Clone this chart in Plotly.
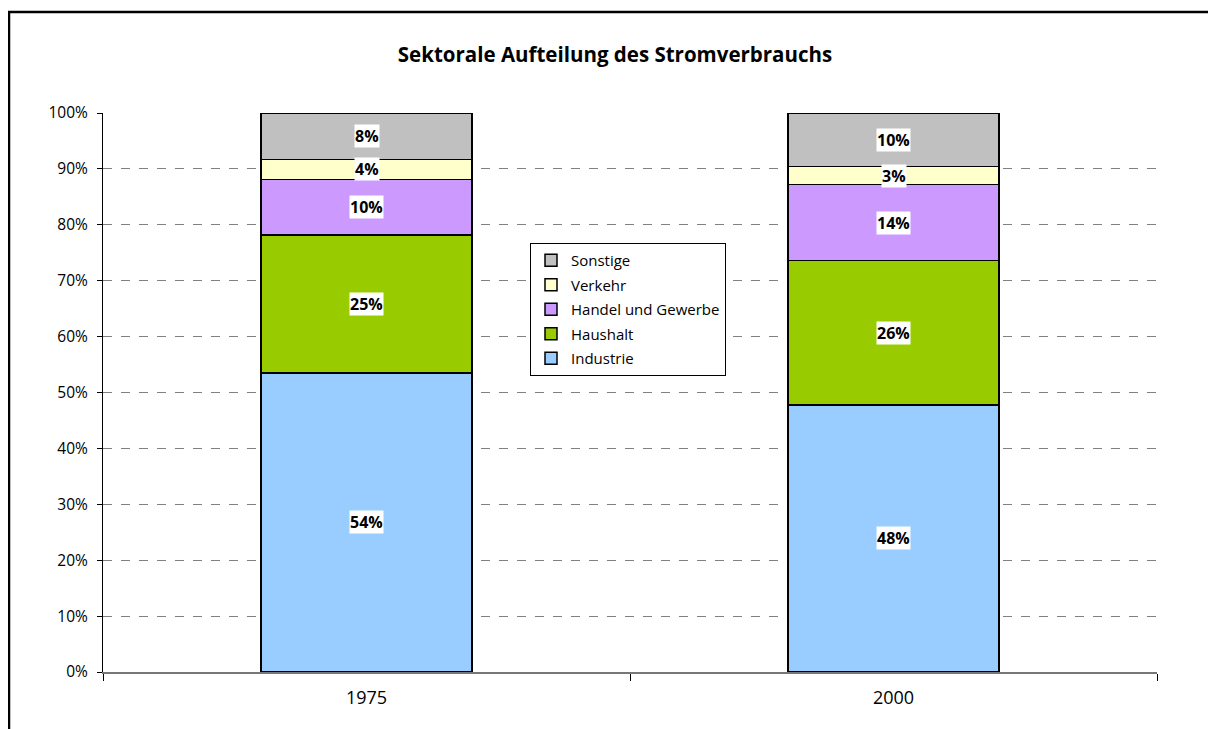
import plotly.graph_objects as go

years = ["1975", "2000"]
industrie = [53.5, 47.8]
haushalt = [24.7, 25.8]
handel = [9.9, 13.6]
verkehr = [3.6, 3.2]
sonstige = [8.3, 9.6]

series_names = ["Industrie", "Haushalt", "Handel und Gewerbe", "Verkehr", "Sonstige"]
series_values = [industrie, haushalt, handel, verkehr, sonstige]
series_colors = ["#99CCFF", "#99CC00", "#CC99FF", "#FFFFCC", "#C0C0C0"]

# page body has an 8px margin: the figure starts at screen (8, 8)
OFF = 8
SW, SH = 1216, 729
W, H = SW - OFF, SH - OFF
# plot area in screen pixels
X0, X1, Y0, Y1 = 103, 1157, 113, 672
L, R, T, B = X0 - OFF, SW - X1, Y0 - OFF, SH - Y1
pw, ph = X1 - X0, Y1 - Y0

def px(x):  # screen x -> paper
    return (x - X0) / pw

def py(y):  # screen y -> paper
    return (Y1 - y) / ph

FONT = "Open Sans, DejaVu Sans"

fig = go.Figure()
n = len(series_names)
for i, (name, vals, col) in enumerate(zip(series_names, series_values, series_colors)):
    fig.add_trace(go.Bar(
        x=years, y=vals, name=name, legendgroup=name, legendrank=n - i,
        marker=dict(color=col, line=dict(color="#000000", width=1.5)),
        hoverinfo="skip",
    ))

annotations = []
for j, yr in enumerate(years):
    base = 0
    for vals in series_values:
        v = vals[j]
        annotations.append(dict(
            x=j, y=base + v / 2, xref="x", yref="y",
            text=f"<b>{v:.0f}%</b>", showarrow=False,
            bgcolor="#FFFFFF", borderpad=0,
            font=dict(family=FONT, size=16, color="#000000"),
        ))
        base += v

fig.update_layout(
    width=W, height=H,
    margin=dict(l=L, r=R, t=T, b=B, autoexpand=False),
    paper_bgcolor="#FFFFFF", plot_bgcolor="#FFFFFF",
    barmode="stack", bargap=0.6,
    title=dict(text="<b>Sektorale Aufteilung des Stromverbrauchs</b>",
               x=px(615), xanchor="center", xref="paper",
               y=1 - (55 - OFF) / H, yanchor="middle", yref="container",
               font=dict(family=FONT, size=20.5, color="#000000")),
    legend=dict(x=px(530), y=py(243), xanchor="left", yanchor="top",
                bgcolor="#FFFFFF", bordercolor="#000000", borderwidth=1,
                traceorder="grouped", tracegroupgap=2, itemwidth=30,
                font=dict(family=FONT, size=15, color="#000000")),
    annotations=annotations,
    shapes=[
        dict(type="line", xref="paper", yref="paper", x0=px(8), x1=px(1216), y0=py(12), y1=py(12),
             line=dict(color="#000000", width=2.5)),
        dict(type="line", xref="paper", yref="paper", x0=px(9), x1=px(9), y0=py(11), y1=py(729),
             line=dict(color="#000000", width=2.5)),
    ],
)

fig.update_xaxes(type="category", tickson="boundaries", ticks="outside", ticklen=7,
                 tickcolor="#000000", showline=True, linecolor="#777777", linewidth=2,
                 showgrid=False, ticklabelstandoff=8,
                 tickfont=dict(family=FONT, size=18, color="#000000"))
fig.update_yaxes(range=[0, 100], dtick=10, ticksuffix="%", ticks="outside", ticklen=5,
                 tickcolor="#000000", showline=True, linecolor="#000000", linewidth=1,
                 showgrid=True, gridcolor="#808080", griddash="dash", gridwidth=1,
                 zeroline=False, ticklabelstandoff=6,
                 tickfont=dict(family=FONT, size=15.5, color="#000000"))

fig.write_html("out.html")
